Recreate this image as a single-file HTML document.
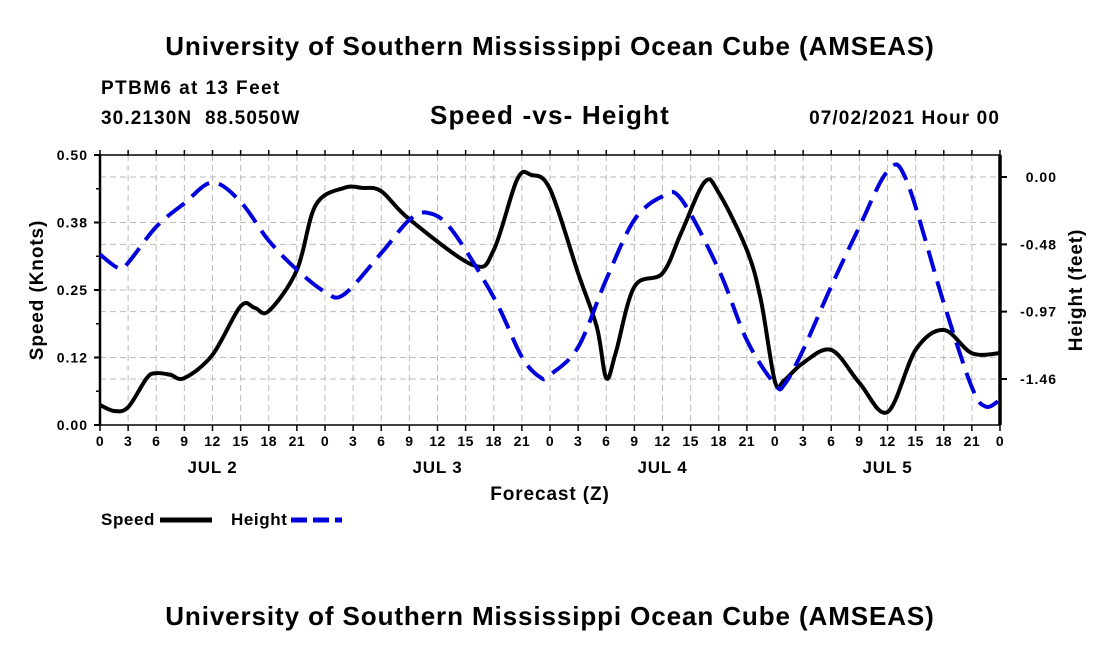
<!DOCTYPE html>
<html><head><meta charset="utf-8"><style>
body{margin:0;background:#fff;}
svg text{font-family:"Liberation Sans",sans-serif;font-weight:bold;fill:#000;}
</style></head><body>
<svg id="chart" width="1100" height="650" xmlns="http://www.w3.org/2000/svg">
<text x="550" y="55" font-size="26" letter-spacing="0.9" text-anchor="middle">University of Southern Mississippi Ocean Cube (AMSEAS)</text>
<text x="101" y="94" font-size="19" letter-spacing="1.4">PTBM6 at 13 Feet</text>
<text x="101" y="124" font-size="19" letter-spacing="1.1" xml:space="preserve">30.2130N  88.5050W</text>
<text x="550" y="124" font-size="26" letter-spacing="1.2" text-anchor="middle">Speed -vs- Height</text>
<text x="1000" y="124" font-size="19" letter-spacing="1.1" text-anchor="end">07/02/2021 Hour 00</text>
<g id="grid"></g>
<g id="axes"></g>
<g id="series"></g>
<text transform="translate(43,290) rotate(-90)" font-size="19" letter-spacing="0.9" text-anchor="middle">Speed (Knots)</text>
<text transform="translate(1082,290) rotate(-90)" font-size="19" letter-spacing="0.9" text-anchor="middle">Height (feet)</text>
<text x="550" y="500" font-size="19" letter-spacing="0.9" text-anchor="middle">Forecast (Z)</text>
<g>
<text x="101" y="525" font-size="17" letter-spacing="0.6">Speed</text>
<line x1="160" y1="520" x2="212" y2="520" stroke="#000" stroke-width="5"/>
<text x="231" y="525" font-size="17" letter-spacing="0.6">Height</text>
<line x1="291" y1="520" x2="342" y2="520" stroke="#0000dd" stroke-width="5" stroke-dasharray="16,6"/>
</g>
<text x="550" y="625" font-size="26" letter-spacing="0.9" text-anchor="middle">University of Southern Mississippi Ocean Cube (AMSEAS)</text>
</svg>
<script>
const speedHours=[0,1.5,3,5,6,7.5,9,12,15,16.5,18,21,23,26,28,30,33,39.8,42,44.5,46,48,51,53,54,55,57,60,62,64.5,66,69,70.5,72,73,75,78,81,84,87,90,93,96];
const speedValues=[0.037,0.026,0.033,0.087,0.096,0.093,0.087,0.13,0.22,0.217,0.211,0.287,0.407,0.439,0.439,0.433,0.381,0.296,0.324,0.455,0.463,0.437,0.281,0.181,0.087,0.133,0.256,0.281,0.356,0.45,0.43,0.324,0.231,0.08,0.083,0.115,0.139,0.078,0.024,0.139,0.176,0.133,0.133];
const heightHours=[0,2,3,6,9,12,15,18,21,24,26,30,33,35,37.5,42,45,47,48,51,54,57,60,62,66,69,72,73,75,78,81,84,86,90,93,94.5,96];
const heightValues=[-0.56,-0.66,-0.62,-0.36,-0.19,-0.04,-0.18,-0.46,-0.67,-0.83,-0.85,-0.55,-0.31,-0.26,-0.38,-0.87,-1.30,-1.45,-1.43,-1.23,-0.74,-0.31,-0.14,-0.16,-0.67,-1.18,-1.50,-1.50,-1.25,-0.79,-0.36,0.04,-0.02,-0.91,-1.52,-1.66,-1.61];
const leftTicks=[0,0.125,0.25,0.375,0.5];
const leftTickLabels=["0.00","0.12","0.25","0.38","0.50"];
const rightTicks=[0,-0.487,-0.973,-1.46];
const rightTickLabels=["0.00","-0.48","-0.97","-1.46"];
const hourLabels=["0","3","6","9","12","15","18","21"];
const dayLabels=["JUL 2","JUL 3","JUL 4","JUL 5"];

const NS="http://www.w3.org/2000/svg";
const X0=100,X1=1000,YT=155,YB=425;
const xs=h=>X0+h*(X1-X0)/96;
const yL=v=>YB-v*(YB-YT)/0.5;
const yR=f=>177-f*(379-177)/1.46;
function mk(tag,attrs,parent){const e=document.createElementNS(NS,tag);for(const k in attrs)e.setAttribute(k,attrs[k]);parent.appendChild(e);return e;}
const grid=document.getElementById('grid'),axes=document.getElementById('axes'),series=document.getElementById('series');
for(let h=3;h<96;h+=3){
 const l=mk('line',{x1:xs(h),x2:xs(h),y1:YT,y2:YB,stroke:'#bbb','stroke-dasharray':'6,4'},grid);
 
 
}
leftTicks.forEach((v,i)=>{
 if(i>0&&i<4){const l=mk('line',{x1:X0,x2:X1,y1:yL(v),y2:yL(v),stroke:'#bbb','stroke-dasharray':'6,4'},grid);
 
 }
 const t=mk('text',{x:X0-12,y:yL(v)+5,'font-size':14,'letter-spacing':1,'text-anchor':'end'},axes);t.textContent=leftTickLabels[i];
 
 
 mk('line',{x1:X0-6,x2:X0,y1:yL(v),y2:yL(v),stroke:'#000','stroke-width':2},axes);
});
for(let v=0.0625;v<0.5;v+=0.125){mk('line',{x1:X0-4,x2:X0,y1:yL(v),y2:yL(v),stroke:'#000','stroke-width':1.5},axes);}
rightTicks.forEach((f,i)=>{
 const l=mk('line',{x1:X0,x2:X1,y1:yR(f),y2:yR(f),stroke:'#bbb','stroke-dasharray':'6,4'},grid);
 
 
 mk('line',{x1:X1,x2:X1+7,y1:yR(f),y2:yR(f),stroke:'#000','stroke-width':2},axes);
 const t=mk('text',{x:X1+57,y:yR(f)+5,'font-size':14,'letter-spacing':1,'text-anchor':'end'},axes);t.textContent=rightTickLabels[i];
 
 
});
mk('rect',{x:X0,y:YT,width:X1-X0,height:YB-YT,fill:'none',stroke:'#000','stroke-width':1.5},axes);
mk('line',{x1:X0,x2:X0,y1:YT,y2:YB,stroke:'#000','stroke-width':2.5},axes);
mk('line',{x1:X1,x2:X1,y1:YT,y2:YB,stroke:'#000','stroke-width':3.5},axes);
for(let h=0;h<=96;h+=3){
 mk('line',{x1:xs(h),x2:xs(h),y1:YB,y2:YB+6,stroke:'#000','stroke-width':1.5},axes);
 mk('line',{x1:xs(h),x2:xs(h),y1:YT,y2:YT-5,stroke:'#000','stroke-width':1.5},axes);
 const t=mk('text',{x:xs(h),y:YB+21,'font-size':14,'letter-spacing':0.5,'text-anchor':'middle'},axes);t.textContent=h===96?"0":hourLabels[(h/3)%8];
 
 
}
dayLabels.forEach((d,i)=>{const t=mk('text',{x:xs(12+24*i),y:YB+48,'font-size':17,'letter-spacing':0.8,'text-anchor':'middle'},axes);t.textContent=d;
 
 });
function smooth(pts){let d=`M${pts[0][0]},${pts[0][1]}`;
 for(let i=0;i<pts.length-1;i++){const p0=pts[Math.max(0,i-1)],p1=pts[i],p2=pts[i+1],p3=pts[Math.min(pts.length-1,i+2)];
 d+=` C${p1[0]+(p2[0]-p0[0])/6},${p1[1]+(p2[1]-p0[1])/6} ${p2[0]-(p3[0]-p1[0])/6},${p2[1]-(p3[1]-p1[1])/6} ${p2[0]},${p2[1]}`;}
 return d;}
const sp=mk('path',{d:smooth(speedHours.map((h,i)=>[xs(h),yL(speedValues[i])])),fill:'none',stroke:'#000','stroke-width':4},series);


const hp=mk('path',{d:smooth(heightHours.map((h,i)=>[xs(h),yR(heightValues[i])])),fill:'none',stroke:'#0000dd','stroke-width':4,'stroke-dasharray':'22,10'},series);


</script>
</body></html>
